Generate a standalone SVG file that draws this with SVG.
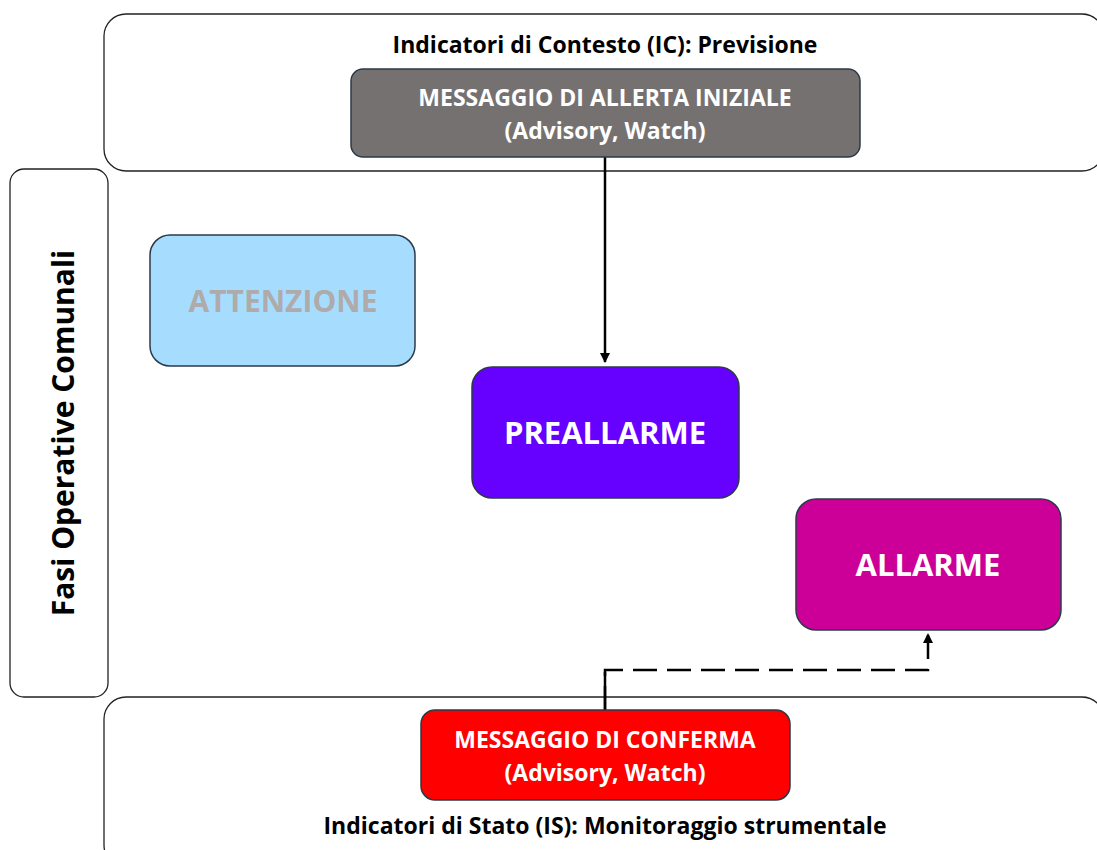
<svg xmlns="http://www.w3.org/2000/svg" width="1097" height="850" viewBox="0 0 1097 850">
<style>
.frame{fill:#fff;stroke:#222;stroke-width:1.3}
.box{stroke:#2b3a48;stroke-width:1.5}
text{font-family:"Open Sans","Liberation Sans",sans-serif;font-weight:bold;text-anchor:middle}
.lbl{font-size:23px;fill:#000}
.w{fill:#fff}
.conn{fill:none;stroke:#000;stroke-width:2.5}
</style>
<defs>
<marker id="ah" viewBox="0 0 10 10" refX="9" refY="5" markerWidth="4" markerHeight="4" orient="auto-start-reverse" markerUnits="strokeWidth">
<path d="M0,0 L10,5 L0,10 z" fill="#000"/>
</marker>
</defs>
<rect width="1097" height="850" fill="#fff"/>
<g id="top-frame">
<rect class="frame" x="104" y="14" width="1000" height="157" rx="22"/>
<text class="lbl" x="605" y="53">Indicatori di Contesto (IC): Previsione</text>
</g>
<g id="bottom-frame">
<rect class="frame" x="104" y="697" width="1000" height="170" rx="22"/>
<text class="lbl" x="605" y="834">Indicatori di Stato (IS): Monitoraggio strumentale</text>
</g>
<g id="side-frame">
<rect class="frame" x="10" y="169" width="98" height="528" rx="14"/>
<text x="63" y="433" font-size="30" fill="#000" transform="rotate(-90 63 433)" dy="11">Fasi Operative Comunali</text>
</g>
<g id="connectors">
<line class="conn" x1="605" y1="157" x2="605" y2="362" marker-end="url(#ah)"/>
<path class="conn" d="M605,710 V670 H928 V634" stroke-dasharray="24,10" marker-end="url(#ah)"/>
<line class="conn" x1="605" y1="710" x2="605" y2="672"/>
</g>
<g id="msg-allerta">
<rect class="box" x="351" y="69" width="509" height="88" rx="12" fill="#767171"/>
<text class="w" x="605" y="106" font-size="23">MESSAGGIO DI ALLERTA INIZIALE</text>
<text class="w" x="605" y="139" font-size="23">(Advisory, Watch)</text>
</g>
<g id="attenzione">
<rect class="box" x="150" y="235" width="265" height="131" rx="20" fill="#a6ddff"/>
<text x="283" y="312" font-size="30" fill="#afabab">ATTENZIONE</text>
</g>
<g id="preallarme">
<rect class="box" x="472" y="367" width="267" height="131" rx="20" fill="#6600ff"/>
<text class="w" x="605" y="444" font-size="31">PREALLARME</text>
</g>
<g id="allarme">
<rect class="box" x="796" y="499" width="265" height="131" rx="20" fill="#cc0099"/>
<text class="w" x="928" y="576" font-size="31">ALLARME</text>
</g>
<g id="msg-conferma">
<rect class="box" x="421" y="710" width="369" height="90" rx="14" fill="#ff0000"/>
<text class="w" x="605" y="748" font-size="23">MESSAGGIO DI CONFERMA</text>
<text class="w" x="605" y="781" font-size="23">(Advisory, Watch)</text>
</g>
</svg>
